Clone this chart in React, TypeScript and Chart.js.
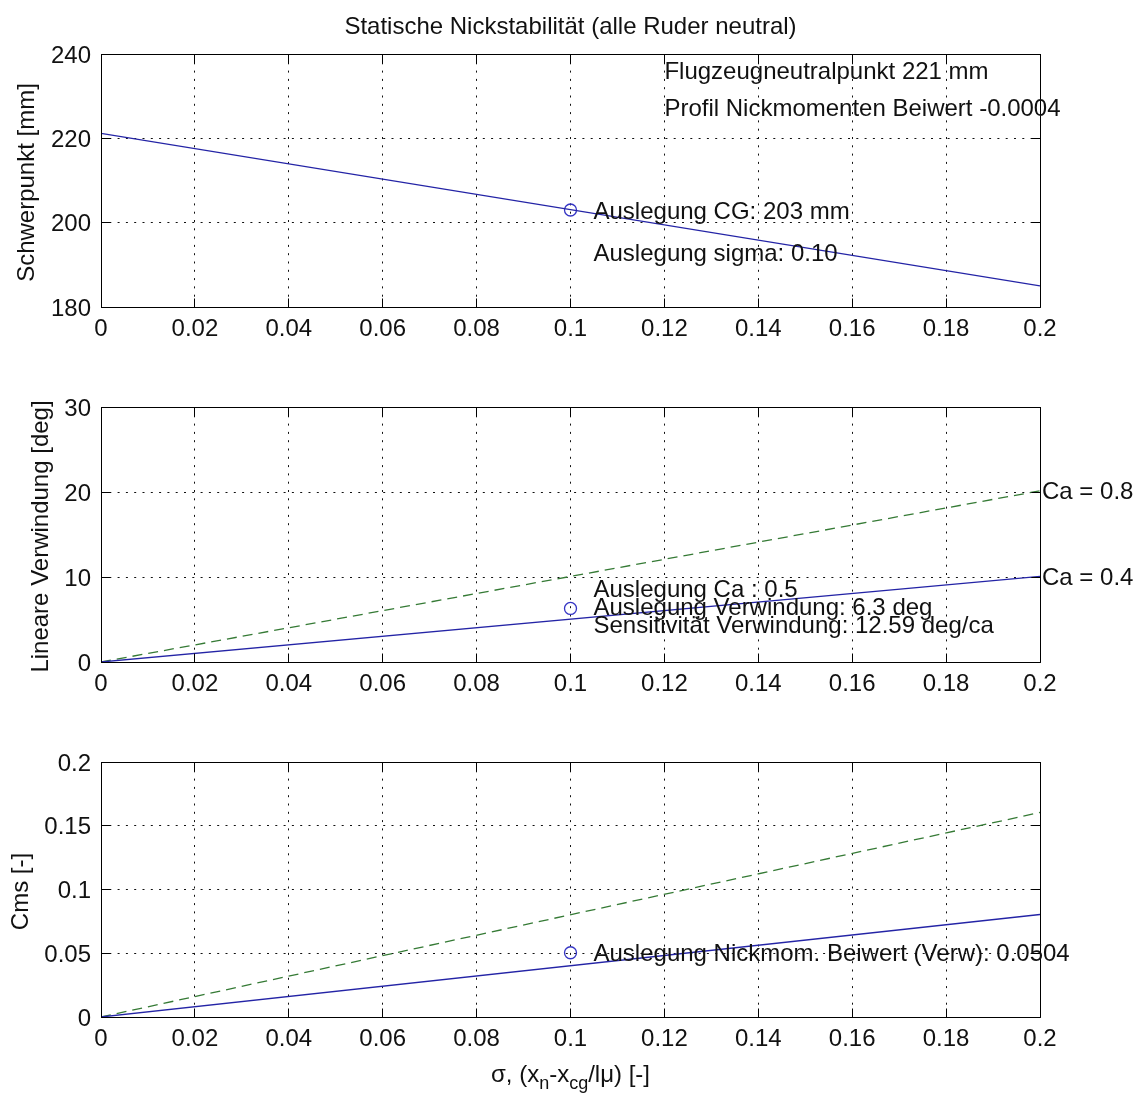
import React, { useEffect, useRef } from "react";
import { Chart, registerables } from "chart.js";

Chart.register(...registerables);

// ---------------- data ----------------
const SIGMA_TICKS = [0, 0.02, 0.04, 0.06, 0.08, 0.1, 0.12, 0.14, 0.16, 0.18, 0.2];
const SIGMA_TICK_LABELS = ["0", "0.02", "0.04", "0.06", "0.08", "0.1", "0.12", "0.14", "0.16", "0.18", "0.2"];
const SIGMA = [0, 0.2];

const CG_MM = [221.2, 185];
const CG_TICKS = [180, 200, 220, 240];
const CG_TICK_LABELS = ["180", "200", "220", "240"];

const TWIST_CA04 = [0, 10.07];
const TWIST_CA08 = [0, 20.14];
const TWIST_TICKS = [0, 10, 20, 30];
const TWIST_TICK_LABELS = ["0", "10", "20", "30"];

const CMS_CA04 = [0, 0.0804];
const CMS_CA08 = [0, 0.1604];
const CMS_TICKS = [0, 0.05, 0.1, 0.15, 0.2];
const CMS_TICK_LABELS = ["0", "0.05", "0.1", "0.15", "0.2"];

const DESIGN_SIGMA = 0.1;
const DESIGN_CG = 203;
const DESIGN_TWIST = 6.3;
const DESIGN_CMS = 0.0504;

// ---------------- text ----------------
const TITLE = "Statische Nickstabilität (alle Ruder neutral)";
const Y_LABELS = ["Schwerpunkt [mm]", "Lineare Verwindung [deg]", "Cms [-]"];
const NOTES_TOP = ["Flugzeugneutralpunkt 221 mm", "Profil Nickmomenten Beiwert -0.0004"];
const NOTES_TOP_SIGMA = 0.12;
const NOTES_TOP_Y = [236.2, 227.2];
const CG_NOTES = ["Auslegung CG: 203 mm", "Auslegung sigma: 0.10"];
const CG_NOTES_Y = [203, 193];
const TWIST_NOTES = ["Auslegung Ca : 0.5", "Auslegung Verwindung: 6.3 deg", "Sensitivität Verwindung: 12.59 deg/ca"];
const TWIST_NOTES_Y = [8.6, 6.5, 4.4];
const CA_LABELS = ["Ca = 0.4", "Ca = 0.8"];
const CMS_NOTE = "Auslegung Nickmom. Beiwert (Verw): 0.0504";
const X_LABEL_PARTS: [string, boolean][] = [
  ["σ, (x", false],
  ["n", true],
  ["-x", false],
  ["cg", true],
  ["/lμ) [-]", false],
];

// ---------------- style / layout ----------------
const W = 1142;
const H = 1093;
const PLOT_LEFT = 101;
const PLOT_RIGHT = 1040;
const FONT_FAMILY = '"Liberation Sans", Arial, Helvetica, sans-serif';
const FONT_SIZE = 24;
const TEXT_COLOR = "#111";
const BLUE = "#2424a6";
const MARKER_BLUE = "#3535c4";
const GREEN = "#357a35";
const TICK_LEN = 9;
const NOTE_DX = 23;

type Note = { x: number; y: number; text: string; dx: number };
type Spec = {
  top: number;
  bottom: number;
  yMin: number;
  yMax: number;
  yTicks: number[];
  yTickLabels: string[];
  yLabel: string;
  yLabelX: number;
  datasets: any[];
  notes: Note[];
  title?: string;
  xLabel?: boolean;
};

const pts = (xs: number[], ys: number[]) => xs.map((x, i) => ({ x, y: ys[i] }));

const lineDs = (data: { x: number; y: number }[], color: string, dash: number[] = []) => ({
  data,
  showLine: true,
  borderColor: color,
  borderWidth: 1.3,
  borderDash: dash,
  pointRadius: 0,
  fill: false,
  tension: 0,
});

const markerDs = (x: number, y: number) => ({
  data: [{ x, y }],
  showLine: false,
  pointRadius: 6,
  pointStyle: "circle",
  pointBorderColor: MARKER_BLUE,
  pointBackgroundColor: "rgba(0,0,0,0)",
  pointBorderWidth: 1.3,
});

const align = (p: number) => Math.round(p - 0.5) + 0.5;

const makePlugin = (spec: Spec) => ({
  id: "matlabAxes",
  afterDraw(chart: any) {
    const ctx: CanvasRenderingContext2D = chart.ctx;
    const { left, right, top, bottom } = chart.chartArea;
    const xs = chart.scales.x;
    const ys = chart.scales.y;
    const L = align(left);
    const R = align(right);
    const T = align(top);
    const B = align(bottom);
    ctx.save();
    ctx.setLineDash([]);
    ctx.strokeStyle = "#000";
    ctx.lineWidth = 1;
    // box
    ctx.beginPath();
    ctx.rect(L, T, R - L, B - T);
    ctx.stroke();
    // inward ticks
    ctx.beginPath();
    SIGMA_TICKS.forEach((v) => {
      const px = align(xs.getPixelForValue(v));
      ctx.moveTo(px, B);
      ctx.lineTo(px, B - TICK_LEN);
      ctx.moveTo(px, T);
      ctx.lineTo(px, T + TICK_LEN);
    });
    spec.yTicks.forEach((v) => {
      const py = align(ys.getPixelForValue(v));
      ctx.moveTo(L, py);
      ctx.lineTo(L + TICK_LEN, py);
      ctx.moveTo(R, py);
      ctx.lineTo(R - TICK_LEN, py);
    });
    ctx.stroke();

    ctx.fillStyle = TEXT_COLOR;
    ctx.font = `${FONT_SIZE}px ${FONT_FAMILY}`;
    ctx.textBaseline = "alphabetic";
    // x tick labels
    ctx.textAlign = "center";
    SIGMA_TICKS.forEach((v, i) => {
      ctx.fillText(SIGMA_TICK_LABELS[i], xs.getPixelForValue(v), bottom + 29);
    });
    // y tick labels
    ctx.textAlign = "right";
    spec.yTicks.forEach((v, i) => {
      ctx.fillText(spec.yTickLabels[i], left - 10, ys.getPixelForValue(v) + 8.5);
    });
    // y label
    ctx.save();
    ctx.translate(spec.yLabelX, (top + bottom) / 2 + 2);
    ctx.rotate(-Math.PI / 2);
    ctx.textAlign = "center";
    ctx.textBaseline = "middle";
    ctx.fillText(spec.yLabel, 0, 0);
    ctx.restore();
    // notes
    ctx.textAlign = "left";
    spec.notes.forEach((n) => {
      ctx.fillText(n.text, xs.getPixelForValue(n.x) + n.dx, ys.getPixelForValue(n.y) + 8.5);
    });
    // title
    if (spec.title) {
      ctx.textAlign = "center";
      ctx.fillText(spec.title, (left + right) / 2, 34);
    }
    // x label with subscripts
    if (spec.xLabel) {
      const subFont = `18px ${FONT_FAMILY}`;
      const mainFont = `${FONT_SIZE}px ${FONT_FAMILY}`;
      let total = 0;
      X_LABEL_PARTS.forEach(([t, sub]) => {
        ctx.font = sub ? subFont : mainFont;
        total += ctx.measureText(t).width;
      });
      let x = (left + right) / 2 - total / 2;
      ctx.textAlign = "left";
      X_LABEL_PARTS.forEach(([t, sub]) => {
        ctx.font = sub ? subFont : mainFont;
        ctx.fillText(t, x, sub ? 1089 : 1082);
        x += ctx.measureText(t).width;
      });
    }
    ctx.restore();
  },
});

const SPECS: Spec[] = [
  {
    top: 54,
    bottom: 307,
    yMin: 180,
    yMax: 240,
    yTicks: CG_TICKS,
    yTickLabels: CG_TICK_LABELS,
    yLabel: Y_LABELS[0],
    yLabelX: 27,
    title: TITLE,
    datasets: [lineDs(pts(SIGMA, CG_MM), BLUE), markerDs(DESIGN_SIGMA, DESIGN_CG)],
    notes: [
      { x: NOTES_TOP_SIGMA, y: NOTES_TOP_Y[0], text: NOTES_TOP[0], dx: 0 },
      { x: NOTES_TOP_SIGMA, y: NOTES_TOP_Y[1], text: NOTES_TOP[1], dx: 0 },
      { x: DESIGN_SIGMA, y: CG_NOTES_Y[0], text: CG_NOTES[0], dx: NOTE_DX },
      { x: DESIGN_SIGMA, y: CG_NOTES_Y[1], text: CG_NOTES[1], dx: NOTE_DX },
    ],
  },
  {
    top: 407,
    bottom: 662,
    yMin: 0,
    yMax: 30,
    yTicks: TWIST_TICKS,
    yTickLabels: TWIST_TICK_LABELS,
    yLabel: Y_LABELS[1],
    yLabelX: 41,
    datasets: [
      lineDs(pts(SIGMA, TWIST_CA04), BLUE),
      lineDs(pts(SIGMA, TWIST_CA08), GREEN, [10, 6]),
      markerDs(DESIGN_SIGMA, DESIGN_TWIST),
    ],
    notes: [
      { x: SIGMA[1], y: TWIST_CA04[1], text: CA_LABELS[0], dx: 2 },
      { x: SIGMA[1], y: TWIST_CA08[1], text: CA_LABELS[1], dx: 2 },
      { x: DESIGN_SIGMA, y: TWIST_NOTES_Y[0], text: TWIST_NOTES[0], dx: NOTE_DX },
      { x: DESIGN_SIGMA, y: TWIST_NOTES_Y[1], text: TWIST_NOTES[1], dx: NOTE_DX },
      { x: DESIGN_SIGMA, y: TWIST_NOTES_Y[2], text: TWIST_NOTES[2], dx: NOTE_DX },
    ],
  },
  {
    top: 762,
    bottom: 1017,
    yMin: 0,
    yMax: 0.2,
    yTicks: CMS_TICKS,
    yTickLabels: CMS_TICK_LABELS,
    yLabel: Y_LABELS[2],
    yLabelX: 21,
    xLabel: true,
    datasets: [
      lineDs(pts(SIGMA, CMS_CA04), BLUE),
      lineDs(pts(SIGMA, CMS_CA08), GREEN, [10, 6]),
      markerDs(DESIGN_SIGMA, DESIGN_CMS),
    ],
    notes: [{ x: DESIGN_SIGMA, y: DESIGN_CMS, text: CMS_NOTE, dx: NOTE_DX }],
  },
];

const gridOpts = {
  color: "#111",
  lineWidth: 1,
  drawTicks: false,
  drawOnChartArea: true,
};

function Subplot({ spec }: { spec: Spec }) {
  const ref = useRef<HTMLCanvasElement | null>(null);
  useEffect(() => {
    if (!ref.current) return;
    const chart = new Chart(ref.current, {
      type: "scatter",
      data: { datasets: spec.datasets },
      options: {
        animation: false,
        responsive: false,
        events: [],
        layout: {
          padding: {
            left: PLOT_LEFT,
            right: W - PLOT_RIGHT,
            top: spec.top,
            bottom: H - spec.bottom,
          },
        },
        plugins: { legend: { display: false }, tooltip: { enabled: false }, title: { display: false } },
        scales: {
          x: {
            type: "linear",
            min: SIGMA_TICKS[0],
            max: SIGMA_TICKS[SIGMA_TICKS.length - 1],
            afterBuildTicks: (s: any) => {
              s.ticks = SIGMA_TICKS.map((v) => ({ value: v }));
            },
            afterFit: (s: any) => {
              s.height = 0;
            },
            ticks: { display: false },
            grid: gridOpts,
            border: { display: false, dash: [2, 6.3] },
          },
          y: {
            type: "linear",
            min: spec.yMin,
            max: spec.yMax,
            afterBuildTicks: (s: any) => {
              s.ticks = spec.yTicks.map((v) => ({ value: v }));
            },
            afterFit: (s: any) => {
              s.width = 0;
            },
            ticks: { display: false },
            grid: gridOpts,
            border: { display: false, dash: [2, 6.3] },
          },
        },
      } as any,
      plugins: [makePlugin(spec)],
    });
    return () => chart.destroy();
  }, [spec]);
  return (
    <canvas
      ref={ref}
      width={W}
      height={H}
      style={{ position: "absolute", left: 0, top: 0, width: W, height: H }}
    />
  );
}

export default function App() {
  return (
    <div style={{ position: "absolute", left: 0, top: 0, width: W, height: H, background: "#fff", overflow: "hidden" }}>
      {SPECS.map((s, i) => (
        <Subplot key={i} spec={s} />
      ))}
    </div>
  );
}
